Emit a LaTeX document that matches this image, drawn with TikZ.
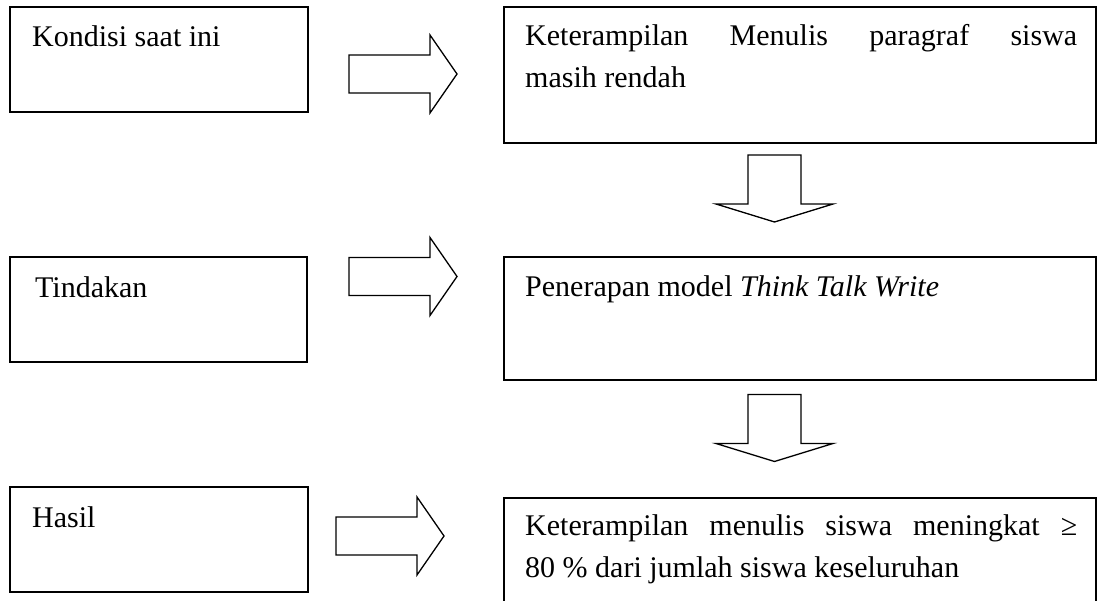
\documentclass[tikz,border=0pt]{standalone}
\usepackage{fontspec}
\setmainfont{Liberation Serif}
\begin{document}
\begin{tikzpicture}[x=1pt,y=-1pt,
  box/.style={draw=black,line width=1.6pt,rectangle,inner sep=0pt,outer sep=0pt,anchor=north west},
  txt/.style={anchor=base west,inner sep=0pt,font=\fontsize{30}{42}\selectfont},
  blockarr/.style={draw=black,line width=1.3pt,line join=miter,fill=white},
  rarrow/.pic={\draw[blockarr] (0,-19) -- (81,-19) -- (81,-39) -- (108,0) -- (81,39) -- (81,19) -- (0,19) -- cycle;},
  darrow/.pic={\draw[blockarr] (-26.5,0) -- (26.5,0) -- (26.5,49) -- (58.5,49) -- (0,67) -- (-58.5,49) -- (-26.5,49) -- cycle;}
]
\clip (0,0) rectangle (1098,601);
\fill[white] (0,0) rectangle (1098,601);

% left column
\node[box,minimum width=298pt,minimum height=105pt] (kondisi) at (10,7) {};
\node[txt] (tkondisi) at (32,47) {Kondisi saat ini};
\node[box,minimum width=297pt,minimum height=105pt] (tindakan) at (10,257) {};
\node[txt] (ttindakan) at (35,298) {Tindakan};
\node[box,minimum width=298pt,minimum height=105pt] (hasil) at (10,487) {};
\node[txt] (thasil) at (32,527) {Hasil};

% right column
\node[box,minimum width=592pt,minimum height=136pt] (kondisiR) at (504,7) {};
\node[txt] (tk1) at (525,46) {\makebox[552pt][s]{Keterampilan Menulis paragraf siswa}};
\node[txt] (tk2) at (525,88) {masih rendah};
\node[box,minimum width=592pt,minimum height=123pt] (tindakanR) at (504,257) {};
\node[txt] (tt1) at (525,297) {Penerapan model \textit{Think Talk Write}};
\node[box,minimum width=592pt,minimum height=130pt] (hasilR) at (504,498) {};
\node[txt] (th1) at (525,535) {\makebox[552pt][s]{Keterampilan menulis siswa meningkat ≥}};
\node[txt] (th2) at (525,577) {80 \% dari jumlah siswa keseluruhan};

% block arrows
\pic at (349,74) {rarrow};
\pic at (349,276.5) {rarrow};
\pic at (336,536) {rarrow};
\pic at (774.5,155) {darrow};
\pic at (774.5,394.5) {darrow};
\end{tikzpicture}
\end{document}
